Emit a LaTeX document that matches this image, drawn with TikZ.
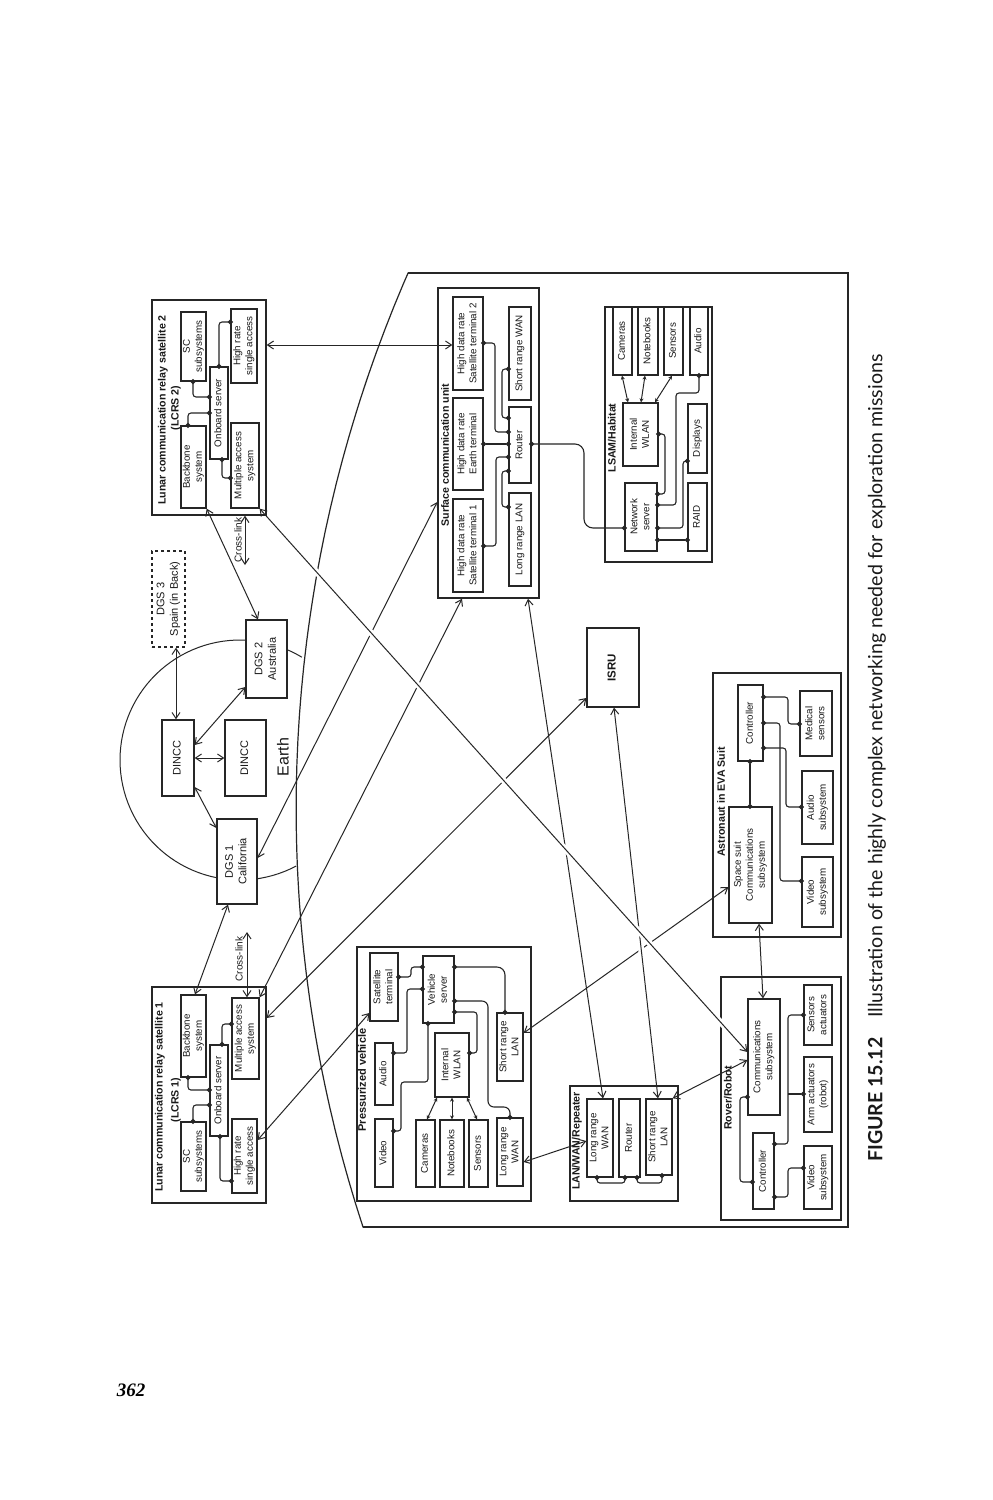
\documentclass[tikz,border=0pt]{standalone}
\usepackage{fontspec}
\setmainfont{Liberation Sans}
\newfontfamily\capfont{Lato}
\newfontfamily\numfont{Liberation Serif}
\usetikzlibrary{arrows.meta}
\newcommand\bx[7][]{%
 \pgfmathsetmacro\bxw{#5-#3}%
 \pgfmathsetmacro\bxh{#6-#4}%
 \pgfmathsetmacro\bxx{(#3+#5)/2}%
 \pgfmathsetmacro\bxy{(#4+#6)/2}%
 \node[box,minimum width=\bxw pt,minimum height=\bxh pt,#1] (#2) at (\bxx,\bxy) {\rotatebox{90}{\begin{tabular}{@{}c@{}}#7\end{tabular}}};}
\tikzset{
 box/.style={draw=black!85, line width=1.3pt, fill=white, inner sep=0pt, font=\fontsize{9.8}{12}\selectfont, text=black!90},
 outer/.style={draw=black!85, line width=1.4pt, fill=none},
 dgs/.style={font=\fontsize{11}{13.5}\selectfont},
 ttl/.style={rotate=90, inner sep=0pt, font=\bfseries\fontsize{10.6}{12}\selectfont, text=black!90},
 conn/.style={draw=black!85, line width=1pt, {Straight Barb[length=6pt,width=8pt]}-{Straight Barb[length=6pt,width=8pt]}},
 dl/.style={draw=black!85, line width=1.1pt, rounded corners=3pt, {Circle[length=5pt]}-{Circle[length=5pt]}, shorten <=-2.5pt, shorten >=-2.5pt},
 dr/.style={draw=black!85, line width=1.1pt, -{Circle[length=5pt]}, shorten >=-2.5pt},
 sa/.style={draw=black!85, line width=1pt, {Stealth[length=4pt,width=4pt]}-{Stealth[length=4pt,width=4pt]}},
 halo/.style={preaction={draw=white, line width=6pt, shorten <=14pt, shorten >=14pt, -}},
 lun/.style={draw=black!85, line width=1.2pt},
}
\begin{document}
\begin{tikzpicture}[x=1pt,y=-1pt]
\useasboundingbox[fill=white] (0,0) rectangle (993,1500);
% lunar surface region
\draw[lun] (408,273) -- (848,273) -- (848,1227) -- (363,1227);
\draw[lun] plot[domain=161.8:203.6, samples=80] ({1635.8+1339.7*cos(\x)},{809+1339.7*sin(\x)});
% Earth
\draw[lun, line width=1pt] plot[domain=62:301, samples=80] ({240+120*cos(\x)},{760+120*sin(\x)});
\node[font=\fontsize{16}{16}\selectfont, rotate=90, text=black!90] (earth) at (283,757) {Earth};
% ground boxes
\bx[dgs, dashed]{dgs3}{152}{551}{185}{647}{DGS 3\\Spain (in Back)}
\bx[dgs]{dn1}{162}{720}{194}{796}{DINCC}
\bx[dgs]{dn2}{225}{720}{266}{796}{DINCC}
\bx[dgs]{dgs2}{246}{620}{287}{698}{DGS 2\\Australia}
\bx[dgs]{dgs1}{217}{819}{257}{904}{DGS 1\\California}
% LCRS 2
\bx[outer]{lcrs2}{152}{300}{266}{515}{}
\node[ttl] (tl2) at (163,410) {Lunar communication relay satellite 2};
\node[ttl] (tl2b) at (176,408) {(LCRS 2)};
\bx{sc2}{181}{312}{206}{381}{SC\\subsystems}
\bx{bb2}{181}{426}{206}{508}{Backbone\\system}
\bx{os2}{210}{367}{228}{459}{Onboard server}
\bx{hr2}{231}{309}{257}{383}{High rate\\single access}
\bx{ma2}{231}{423}{259}{508}{Multiple access\\system}
\draw[dl] (sc2.south -| 193,0) |- (os2.west |- 0,397);
\draw[dl] (bb2.north -| 188,0) |- (os2.west |- 0,413);
\draw[dl] (os2.north -| 219,0) |- (hr2.west |- 0,322);
\draw[dl] (os2.south -| 222,0) |- (ma2.west |- 0,478);
% LCRS 1
\bx[outer]{lcrs1}{152}{987}{266}{1203}{}
\node[ttl] (tl1) at (160,1097) {Lunar communication relay satellite 1};
\node[ttl] (tl1b) at (176,1100) {(LCRS 1)};
\bx{bb1}{181}{995}{206}{1077}{Backbone\\system}
\bx{sc1}{181}{1122}{206}{1191}{SC\\subsystems}
\bx{os1}{210}{1045}{228}{1136}{Onboard server}
\bx{ma1}{232}{998}{259}{1079}{Multiple access\\system}
\bx{hr1}{232}{1119}{257}{1193}{High rate\\single access}
\draw[dl] (bb1.south -| 188,0) |- (os1.west |- 0,1090);
\draw[dl] (sc1.north -| 193,0) |- (os1.west |- 0,1105);
\draw[dl] (os1.north -| 222,0) |- (ma1.west |- 0,1024);
\draw[dl] (os1.south -| 220,0) |- (hr1.west |- 0,1181);
% Surface communication unit
\bx[outer]{scu}{438}{288}{539}{598}{}
\node[ttl] (tscu) at (445,455) {Surface communication unit};
\bx{st2}{453}{297}{483}{390}{High data rate\\Satellite terminal 2}
\bx{et}{453}{398}{483}{490}{High data rate\\Earth terminal}
\bx{st1}{453}{499}{483}{592}{High data rate\\Satellite terminal 1}
\bx{srw}{509}{307}{531}{400}{Short range WAN}
\bx{rt}{509}{407}{531}{483}{Router}
\bx{lrl}{509}{493}{531}{586}{Long range LAN}
\draw[dl] (st2.east |- 0,343) -| (495,432) -- (rt.west |- 0,432);
\draw[dl] (et.east |- 0,444) -- (rt.west |- 0,444);
\draw[dl] (st1.east |- 0,546) -| (496,457) -- (rt.west |- 0,457);
\draw[dl] (srw.west |- 0,369) -| (502,418) -- (rt.west |- 0,418);
\draw[dl] (lrl.west |- 0,507) -| (502,471) -- (rt.west |- 0,471);
% LSAM/Habitat
\bx[outer]{lsam}{605}{307}{712}{562}{}
\node[ttl] (tlsam) at (612,438) {LSAM/Habitat};
\bx{cam}{613}{307}{632}{375}{Cameras}
\bx{nb}{638}{307}{658}{375}{Notebooks}
\bx{sen}{664}{307}{683}{375}{Sensors}
\bx{aud}{690}{307}{708}{375}{Audio}
\bx{wl}{623}{403}{658}{466}{Internal\\WLAN}
\bx{dsp}{688}{404}{707}{473}{Displays}
\bx{ns}{625}{483}{657}{551}{Network\\server}
\bx{raid}{688}{483}{707}{551}{RAID}
\draw[sa] (wl.north -| 628,0) -- (cam.south -| 622,0);
\draw[sa] (wl.north -| 641,0) -- (nb.south -| 645,0);
\draw[sa] (wl.north -| 655,0) -- (sen.south -| 672,0);
\draw[dl] (aud.south -| 699,0) |- (676,393) |- (ns.east |- 0,505);
\draw[dl] (wl.east |- 0,434) -| (665,494) -- (ns.east |- 0,494);
\draw[dl] (dsp.west |- 0,461) -| (683,528) -- (ns.east |- 0,528);
\draw[dl] (raid.west |- 0,540) -- (ns.east |- 0,540);
\draw[dl, rounded corners=9pt] (rt.east |- 0,444) -| (584,528) -- (ns.west |- 0,528);
% ISRU
\bx[font=\bfseries\fontsize{11.5}{13}\selectfont]{isru}{587}{628}{639}{707}{ISRU}
% Pressurized vehicle
\bx[outer]{pv}{357}{947}{531}{1201}{}
\node[ttl, font=\bfseries\fontsize{11}{12}\selectfont] (tpv) at (362,1080) {Pressurized vehicle};
\bx{stm}{370}{953}{398}{1021}{Satellite\\terminal}
\bx{vs}{423}{956}{454}{1023}{Vehicle\\server}
\bx{paud}{375}{1043}{393}{1105}{Audio}
\bx{pvid}{375}{1119}{393}{1187}{Video}
\bx{pwl}{435}{1033}{469}{1097}{Internal\\WLAN}
\bx{pcam}{416}{1120}{435}{1187}{Cameras}
\bx{pnb}{440}{1120}{464}{1187}{Notebooks}
\bx{psen}{469}{1120}{488}{1187}{Sensors}
\bx{psrl}{497}{1013}{523}{1081}{Short range\\LAN}
\bx{plrw}{497}{1118}{523}{1186}{Long range\\WAN}
\draw[dl] (stm.east |- 0,977) -| (411,967) -- (vs.west |- 0,967);
\draw[dl, rounded corners=8pt] (vs.east |- 0,967) -| (psrl.north -| 505,0);
\draw[dl, rounded corners=6pt] (vs.east |- 0,1001) -| (488,1107) -| (plrw.north -| 510,0);
\draw[dl] (vs.east |- 0,1012) -| (477,1053) -- (pwl.east |- 0,1053);
\draw[dl] (paud.east |- 0,1053) -| (407,989) -- (vs.west |- 0,989);
\draw[dl] (vs.south -| 428,0) |- (401,1082) |- (pvid.east |- 0,1131);
\draw[sa] (pwl.south -| 437,0) -- (pcam.north -| 427,0);
\draw[sa] (pwl.south -| 452,0) -- (pnb.north -| 452,0);
\draw[sa] (pwl.south -| 467,0) -- (psen.north -| 477,0);
% LAN/WAN Repeater
\bx[outer]{rep}{570}{1086}{678}{1201}{}
\node[ttl] (trep) at (577,1141) {LAN/WAN/Repeater};
\bx{rlrw}{587}{1099}{613}{1177}{Long range\\WAN}
\bx{rrt}{619}{1099}{640}{1177}{Router}
\bx{rsrl}{646}{1099}{672}{1175}{Short range\\LAN}
\draw[dl] (rlrw.south -| 597,0) |- (625,1183) -- (rrt.south -| 625,0);
\draw[dl] (rrt.south -| 637,0) |- (662,1183) -- (rsrl.south -| 662,0);
% Astronaut
\bx[outer]{eva}{713}{673}{841}{937}{}
\node[ttl] (teva) at (721,802) {Astronaut in EVA Suit};
\bx{actl}{738}{685}{763}{761}{Controller}
\bx{med}{800}{691}{832}{756}{Medical\\sensors}
\bx{aaud}{802}{771}{833}{844}{Audio\\subsystem}
\bx{avid}{802}{857}{833}{927}{Video\\subsystem}
\bx{ssc}{729}{807}{772}{923}{Space suit\\Communications\\subsystem}
\draw[dl] (actl.south -| 750,0) -- (ssc.north -| 750,0);
\draw[dl] (actl.east |- 0,697) -| (788,724) -- (med.west |- 0,724);
\draw[dl] (actl.east |- 0,723) -| (780,881) -- (avid.west |- 0,881);
\draw[dl] (actl.east |- 0,748) -| (786,807) -- (aaud.west |- 0,807);
% Rover
\bx[outer]{rov}{721}{977}{841}{1220}{}
\node[ttl] (trov) at (728,1098) {Rover/Robot};
\bx{rcom}{748}{999}{780}{1115}{Communications\\subsystem}
\bx{rsa}{804}{985}{832}{1045}{Sensors\\actuators}
\bx{rarm}{804}{1057}{832}{1132}{Arm actuators\\(robot)}
\bx{rvid}{804}{1146}{832}{1209}{Video\\subsystem}
\bx{rctl}{753}{1133}{774}{1209}{Controller}
\draw[dl] (rcom.west |- 0,1097) -| (740,1182) -- (rctl.west |- 0,1182);
\draw[dl] (rctl.east |- 0,1144) -| (788,1015) -- (rsa.west |- 0,1015);
\draw[dr] (788,1094) -- (rarm.west |- 0,1094);
\draw[dl] (rctl.east |- 0,1197) -| (788,1168) -- (rvid.west |- 0,1168);
% links
\coordinate (cl2) at (245,565);
\coordinate (cl1) at (247,932);
\draw[conn] (dgs3.south -| 176,0) -- (dn1.north -| 176,0);
\draw[conn] (dn1.east |- 0,758) -- (dn2.west |- 0,758);
\draw[conn] (dn1.east |- 0,745) -- (dgs2.west |- 0,687);
\draw[conn] (dn1.east |- 0,787) -- (dgs1.west |- 0,828);
\draw[conn] (dgs2.north -| 258,0) -- (bb2.south east);
\draw[conn] (lcrs2.south -| 245,0) -- (cl2);
\node[rotate=90, font=\fontsize{10}{10}\selectfont, text=black!90] (xl2) at (238,540) {Cross-link};
\draw[conn] (dgs1.south -| 228,0) -- (bb1.north -| 195,0);
\draw[conn] (cl1) -- (ma1.north -| 247,0);
\node[rotate=90, font=\fontsize{10}{10}\selectfont, text=black!90] (xl1) at (239,959) {Cross-link};
\draw[conn] (lcrs2.east |- 0,345) -- (st2.west |- 0,345);
\draw[conn] (dgs1.east |- 0,858) -- (scu.west |- 0,502);
\draw[conn] (scu.south -| 462,0) -- (ma1.north east);
\draw[conn] (isru.west |- 0,698) -- (lcrs1.east |- 0,1018);
\draw[conn] (scu.south -| 528,0) -- (rlrw.north -| 603,0);
\draw[conn] (stm.west |- 0,1013) -- (hr1.east |- 0,1140);
\draw[conn] (psrl.east |- 0,1033) -- (ssc.west |- 0,887);
\draw[conn] (ssc.south -| 759,0) -- (rcom.north -| 763,0);
\draw[conn] (rsrl.north east) -- (rcom.west |- 0,1060);
\draw[conn] (plrw.east |- 0,1162) -- (rlrw.west |- 0,1141);
\draw[conn, halo] (isru.south -| 614,0) -- (rsrl.north -| 658,0);
\draw[conn, halo] (ma2.south east) -- (rcom.west |- 0,1052);
% caption and page number
\node[rotate=90, anchor=west, inner sep=0pt, font=\capfont\fontsize{19.6}{22}\selectfont, text=black!90] (cap) at (877,1162) {{\bfseries FIGURE 15.12}\quad Illustration of the highly complex networking needed for exploration missions};
\node[font=\numfont\bfseries\itshape\fontsize{19}{19}\selectfont] (pg) at (131,1390) {362};
\end{tikzpicture}
\end{document}
